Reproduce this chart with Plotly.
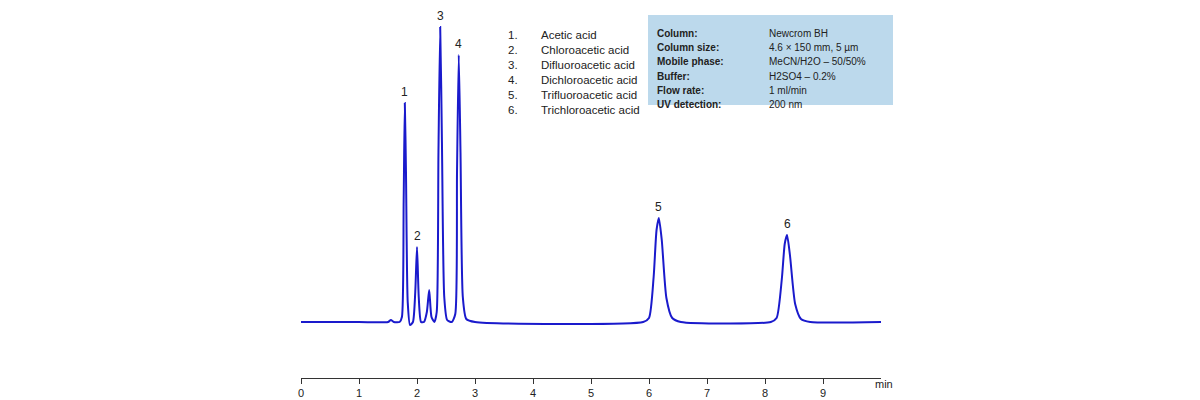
import plotly.graph_objects as go

# chromatogram trace (time in min, signal in arbitrary units)
time = [0, 1.0, 1.5, 1.55, 1.6, 1.7, 1.74, 1.77, 1.79, 1.81, 1.84, 1.88, 1.93, 1.97, 2.0, 2.03,
        2.07, 2.12, 2.17, 2.21, 2.25, 2.3, 2.34, 2.37, 2.40, 2.43, 2.47, 2.52, 2.6, 2.66, 2.69,
        2.72, 2.75, 2.79, 2.85, 3.0, 5.9, 6.0, 6.08, 6.13, 6.17, 6.22, 6.3, 6.4, 6.55, 8.1,
        8.2, 8.29, 8.34, 8.38, 8.43, 8.52, 8.62, 8.78, 10.0]
signal = [0, 0, 0, 2, 0, 0, 5, 120, 219, 150, 20, -3, 0, 30, 75, 25,
          0, 0, 10, 32, 5, 0, 10, 170, 295, 180, 25, 2, 0, 8, 150,
          267, 170, 25, 3, 0, 0, 4, 45, 92, 104, 82, 24, 4, 0, 0,
          4, 43, 78, 87, 67, 18, 3, 0, 0]

peak_labels = ["1", "2", "3", "4", "5", "6"]
peak_times = [1.79, 2.0, 2.40, 2.72, 6.17, 8.38]
peak_heights = [219, 75, 295, 267, 104, 87]

compounds = ["Acetic acid", "Chloroacetic acid", "Difluoroacetic acid",
             "Dichloroacetic acid", "Trifluoroacetic acid", "Trichloroacetic acid"]

cond_keys = ["Column:", "Column size:", "Mobile phase:", "Buffer:", "Flow rate:", "UV detection:"]
cond_vals = ["Newcrom BH", "4.6 × 150 mm, 5 µm", "MeCN/H2O – 50/50%", "H2SO4 – 0.2%",
             "1 ml/min", "200 nm"]

fig = go.Figure()
fig.add_trace(go.Scatter(x=time, y=signal, mode="lines",
                         line=dict(color="#1a1acc", width=2, shape="spline", smoothing=0.6),
                         hoverinfo="skip", showlegend=False))

for lab, t, h in zip(peak_labels, peak_times, peak_heights):
    fig.add_annotation(x=t, y=h, text=lab, showarrow=False, yanchor="bottom", yshift=2,
                       font=dict(size=12, color="#222"))

def px_x(p):
    return (p - 301) / 580

def px_y(p):
    return (378 - p) / 368

for i, name in enumerate(compounds):
    y = px_y(27 + 15 * i)
    fig.add_annotation(xref="paper", yref="paper", x=px_x(506), y=y, text=f"{i + 1}.",
                       showarrow=False, xanchor="left", font=dict(size=11.5, color="#222"))
    fig.add_annotation(xref="paper", yref="paper", x=px_x(539), y=y, text=name,
                       showarrow=False, xanchor="left", font=dict(size=11.5, color="#222"))

fig.add_shape(type="rect", xref="paper", yref="paper", x0=px_x(648), x1=px_x(893),
              y0=px_y(105), y1=px_y(15), fillcolor="#bcd9ec", line=dict(width=0), layer="below")

for i, (k, v) in enumerate(zip(cond_keys, cond_vals)):
    y = px_y(26 + 14.2 * i)
    fig.add_annotation(xref="paper", yref="paper", x=px_x(655), y=y, text=f"<b>{k}</b>",
                       showarrow=False, xanchor="left", font=dict(size=10, color="#222"))
    fig.add_annotation(xref="paper", yref="paper", x=px_x(767), y=y, text=v,
                       showarrow=False, xanchor="left", font=dict(size=10, color="#222"))

fig.add_annotation(xref="paper", yref="paper", x=px_x(873), y=px_y(384), text="min",
                   showarrow=False, xanchor="left", yanchor="middle", font=dict(size=11, color="#222"))

fig.update_layout(
    width=1200, height=400,
    margin=dict(l=293, r=327, t=2, b=30),
    plot_bgcolor="white", paper_bgcolor="white",
    font=dict(family="Liberation Sans, Arial, sans-serif"),
    xaxis=dict(range=[0, 10], tickvals=list(range(10)), showgrid=False, zeroline=False,
               showline=True, linecolor="#333", linewidth=1, ticks="outside", ticklen=5,
               tickcolor="#333", tickfont=dict(size=11, color="#222")),
    yaxis=dict(range=[-56, 312], visible=False),
)

fig.write_html("out.html")
